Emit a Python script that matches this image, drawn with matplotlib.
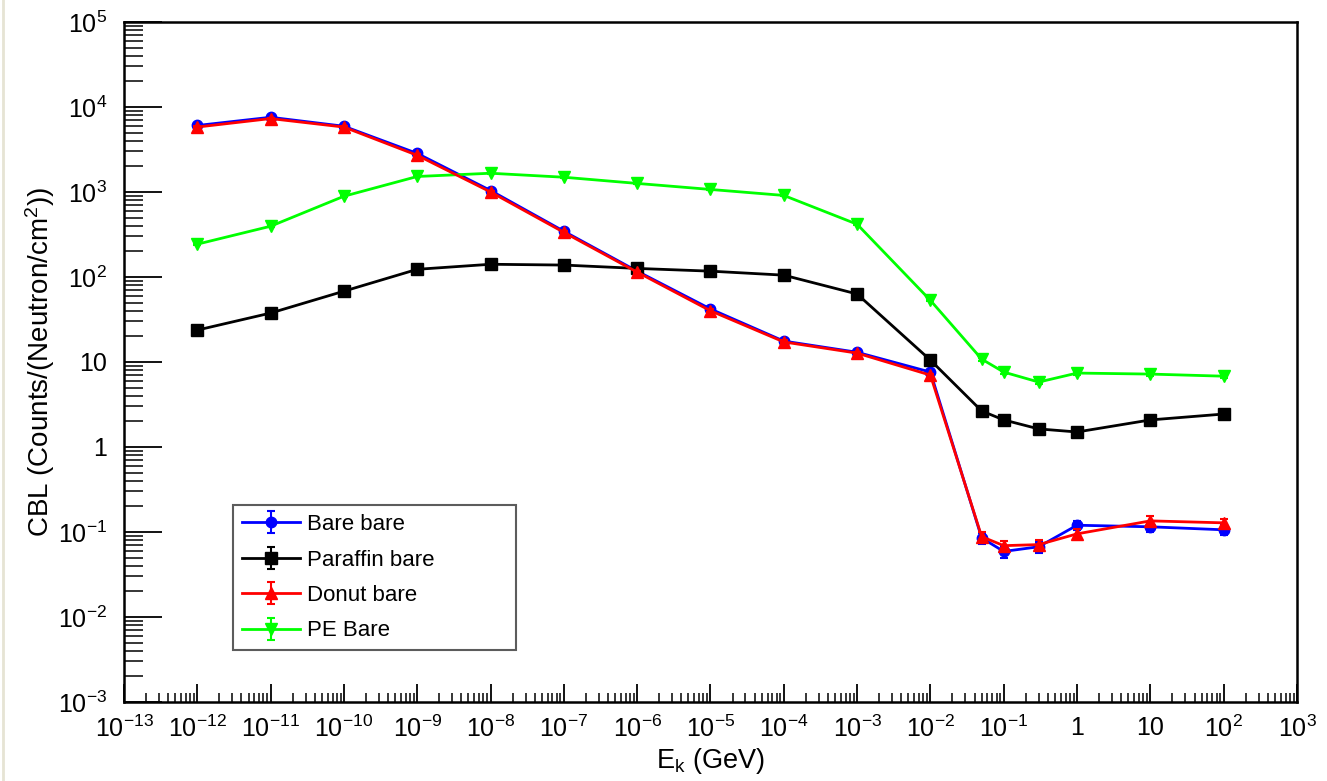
import matplotlib
matplotlib.use("Agg")
import matplotlib.pyplot as plt
from matplotlib.ticker import FixedLocator, FixedFormatter, LogLocator, NullFormatter
from matplotlib.lines import Line2D

plt.rcParams['font.family'] = ['Liberation Sans', 'DejaVu Sans']
plt.rcParams['mathtext.fontset'] = 'custom'
plt.rcParams['mathtext.rm'] = 'Liberation Sans'
plt.rcParams['mathtext.it'] = 'Liberation Sans:italic'

# kinetic energy points (GeV)
energy = [1e-12, 1e-11, 1e-10, 1e-9, 1e-8, 1e-7, 1e-6, 1e-5, 1e-4, 1e-3,
          1e-2, 0.05, 0.1, 0.3, 1, 10, 100]

bare = [6050, 7560, 5930, 2840, 1040, 345, 117, 42, 17.6, 13.0,
        7.6, 0.085, 0.059, 0.067, 0.12, 0.115, 0.106]
bare_err = [150, 180, 150, 80, 30, 10, 4, 1.5, 0.7, 0.5,
            0.3, 0.012, 0.010, 0.010, 0.015, 0.015, 0.015]

paraffin = [23.7, 37.6, 68, 123, 141, 138, 126, 117, 105, 63,
            10.5, 2.65, 2.08, 1.63, 1.5, 2.08, 2.44]
paraffin_err = [0.8, 1.0, 1.5, 2.5, 3, 3, 3, 3, 2.5, 1.5,
                0.4, 0.12, 0.1, 0.08, 0.08, 0.1, 0.12]

donut = [5800, 7300, 5800, 2700, 1000, 335, 114, 40, 17.2, 12.7,
         7.0, 0.088, 0.069, 0.071, 0.095, 0.135, 0.128]
donut_err = [150, 180, 150, 80, 30, 10, 4, 1.5, 0.7, 0.5,
             0.3, 0.012, 0.010, 0.010, 0.012, 0.018, 0.015]

pe = [243, 395, 890, 1520, 1660, 1490, 1260, 1070, 910, 417,
      53, 10.8, 7.6, 5.8, 7.4, 7.2, 6.8]
pe_err = [6, 9, 18, 30, 30, 30, 25, 20, 18, 9,
          1.5, 0.4, 0.3, 0.25, 0.3, 0.3, 0.3]

xtick_vals = [1e-13, 1e-12, 1e-11, 1e-10, 1e-9, 1e-8, 1e-7, 1e-6, 1e-5,
              1e-4, 1e-3, 1e-2, 1e-1, 1, 10, 1e2, 1e3]
xtick_labels = [r'$10^{-13}$', r'$10^{-12}$', r'$10^{-11}$', r'$10^{-10}$',
                r'$10^{-9}$', r'$10^{-8}$', r'$10^{-7}$', r'$10^{-6}$',
                r'$10^{-5}$', r'$10^{-4}$', r'$10^{-3}$', r'$10^{-2}$',
                r'$10^{-1}$', '1', '10', r'$10^{2}$', r'$10^{3}$']
ytick_vals = [1e-3, 1e-2, 1e-1, 1, 10, 1e2, 1e3, 1e4, 1e5]
ytick_labels = [r'$10^{-3}$', r'$10^{-2}$', r'$10^{-1}$', '1', '10',
                r'$10^{2}$', r'$10^{3}$', r'$10^{4}$', r'$10^{5}$']

fig = plt.figure(figsize=(13.27, 7.81), dpi=100)
ax = fig.add_axes([0.0934, 0.1012, 0.884, 0.8707])

series = [
    (bare, bare_err, '#0000ff', 'o', 7.5, 'Bare bare', 2),
    (paraffin, paraffin_err, 'black', 's', 8.0, 'Paraffin bare', 3),
    (donut, donut_err, '#ff0000', '^', 8.0, 'Donut bare', 4),
    (pe, pe_err, '#00ff00', 'v', 8.0, 'PE Bare', 3),
]
for vals, errs, col, mk, ms, lab, z in series:
    ax.errorbar(energy, vals, yerr=errs, color=col, marker=mk, markersize=ms,
                linewidth=2, elinewidth=1.5, capsize=3, capthick=1.5,
                label=lab, zorder=z)

ax.set_xscale('log')
ax.set_yscale('log')
ax.set_xlim(1e-13, 1e3)
ax.set_ylim(1e-3, 1e5)

ax.xaxis.set_major_locator(FixedLocator(xtick_vals))
ax.xaxis.set_major_formatter(FixedFormatter(xtick_labels))
ax.yaxis.set_major_locator(FixedLocator(ytick_vals))
ax.yaxis.set_major_formatter(FixedFormatter(ytick_labels))
ax.xaxis.set_minor_locator(LogLocator(base=10, subs=range(2, 10), numticks=100))
ax.yaxis.set_minor_locator(LogLocator(base=10, subs=range(2, 10), numticks=100))
ax.xaxis.set_minor_formatter(NullFormatter())
ax.yaxis.set_minor_formatter(NullFormatter())

ax.tick_params(axis='both', which='both', direction='in', top=False, right=False,
               labelsize=18, colors='black')
ax.tick_params(axis='x', which='major', length=13, width=1.3, pad=10)
ax.tick_params(axis='x', which='minor', length=6.5, width=1.1)
ax.tick_params(axis='y', which='major', length=27, width=1.3, pad=12)
ax.tick_params(axis='y', which='minor', length=13.5, width=1.1)

for sp in ax.spines.values():
    sp.set_linewidth(1.8)

ax.set_xlabel(r'E$_{\mathrm{k}}$ (GeV)', fontsize=19.5, labelpad=3)
ax.set_ylabel(r'CBL (Counts/(Neutron/cm$^{2}$))', fontsize=20, labelpad=1)

leg = ax.legend(loc='lower left', bbox_to_anchor=(0.093, 0.076, 0.241, 0.212),
                mode='expand', fontsize=16, frameon=True, fancybox=False,
                edgecolor='#333333', handlelength=2.6, borderpad=0.4,
                labelspacing=0.65, handletextpad=0.35, borderaxespad=0)
leg.get_frame().set_linewidth(1.5)

fig.add_artist(Line2D([0.002, 0.002], [0, 1], color='#e6e4d4', linewidth=2,
                      transform=fig.transFigure))

fig.savefig('out.png', dpi=100)
